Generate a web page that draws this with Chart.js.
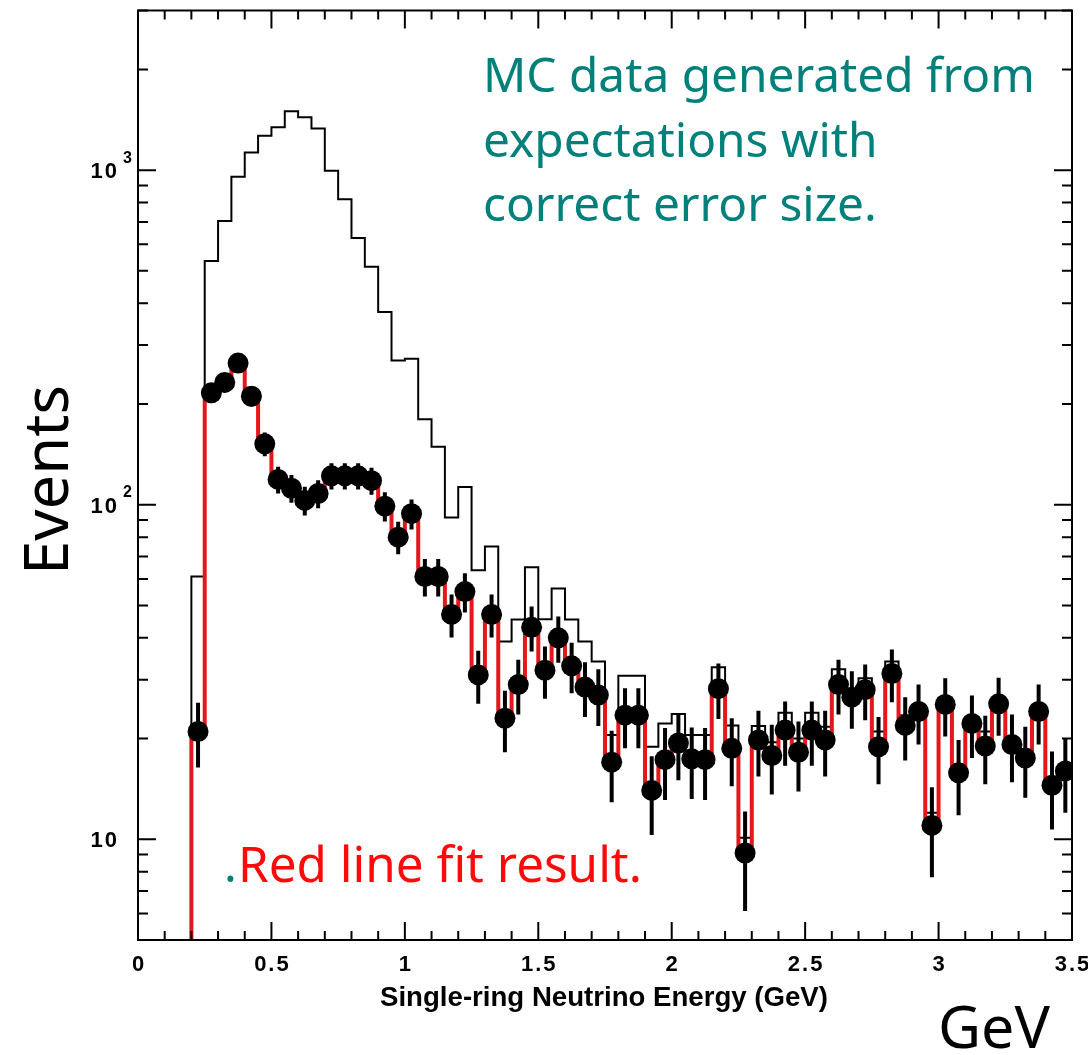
<!DOCTYPE html>
<html>
<head>
<meta charset="utf-8">
<script src="https://cdn.jsdelivr.net/npm/chart.js@4.4.1/dist/chart.umd.min.js"></script>
<style>
  html, body { margin: 0; padding: 0; background: #fff; }
  #wrap { width: 1088px; height: 1055px; position: relative; }
</style>
</head>
<body>
<div id="wrap"><canvas id="chart" width="1088" height="1055"></canvas></div>
<script>
// bin centres (GeV), 0.05 GeV wide bins from 0.2 to 3.5
const energy = [
  0.225, 0.275, 0.325, 0.375, 0.425, 0.475, 0.525, 0.575, 0.625, 0.675,
  0.725, 0.775, 0.825, 0.875, 0.925, 0.975, 1.025, 1.075, 1.125, 1.175,
  1.225, 1.275, 1.325, 1.375, 1.425, 1.475, 1.525, 1.575, 1.625, 1.675,
  1.725, 1.775, 1.825, 1.875, 1.925, 1.975, 2.025, 2.075, 2.125, 2.175,
  2.225, 2.275, 2.325, 2.375, 2.425, 2.475, 2.525, 2.575, 2.625, 2.675,
  2.725, 2.775, 2.825, 2.875, 2.925, 2.975, 3.025, 3.075, 3.125, 3.175,
  3.225, 3.275, 3.325, 3.375, 3.425, 3.475
];
const binWidth = 0.05;

// expectation histogram (black)
const mcEvents = [
  61, 535, 705, 955, 1129, 1266, 1343, 1500, 1439, 1331,
  995, 818, 627, 514, 377, 270, 273, 180, 149, 91.6,
  113, 63.7, 75, 39, 45.4, 65, 45.5, 56.2, 45.4, 39,
  34, 20.5, 30.8, 30.8, 18.9, 22.2, 23.7, 20.5, 20.5, 32.7,
  21.9, 10.1, 21.8, 19.5, 23.9, 20, 23.9, 21.7, 32.2, 27,
  30.3, 21, 34, 23.5, 25, 12, 26.5, 16, 22, 21,
  25, 19.5, 18, 24, 15, 16.5
];

// MC data points
const dataEvents = [
  21, 216, 232, 265, 211, 152, 119, 112, 103, 108,
  122, 122, 122, 118, 99, 80, 94, 61, 61, 47,
  55, 31, 47, 23, 29, 43, 32, 40, 33, 28.5,
  27, 17, 23.5, 23.5, 14, 17.3, 19.4, 17.4, 17.3, 28.2,
  18.7, 9.1, 19.8, 17.8, 21.2, 18.2, 21.2, 19.8, 29, 26.6,
  28, 18.9, 31.3, 21.9, 24.1, 11, 25.3, 15.8, 22.2, 19,
  25.4, 19.2, 17.5, 24.1, 14.5, 16
];
const dataErrors = [
  4.6, 14.7, 15.2, 16.3, 14.5, 12.3, 10.9, 10.6, 10.1, 10.4,
  11.0, 11.0, 11.0, 10.9, 9.9, 8.9, 9.7, 7.8, 7.8, 6.9,
  7.4, 5.6, 6.9, 4.8, 5.4, 6.6, 5.7, 6.3, 5.7, 5.3,
  5.2, 4.1, 4.8, 4.8, 3.7, 4.2, 4.4, 4.2, 4.2, 5.3,
  4.3, 3.0, 4.4, 4.2, 4.6, 4.3, 4.6, 4.4, 5.4, 5.2,
  5.3, 4.3, 5.6, 4.7, 4.9, 3.3, 5.0, 4.0, 4.7, 4.4,
  5.0, 4.4, 4.2, 4.9, 3.8, 4.0
];
// red fit steps run through the data points
const fitEvents = dataEvents;

const xTicks = [0, 0.5, 1, 1.5, 2, 2.5, 3, 3.5];
const xTickLabels = ['0', '0.5', '1', '1.5', '2', '2.5', '3', '3.5'];
const yDecades = [10, 100, 1000];
const yDecadeExp = ['', '2', '3'];

function histogramPoints(values) {
  // start below the axis so the first edge is drawn up from the bottom
  const pts = [{ x: energy[0] - binWidth / 2, y: 1 }];
  values.forEach((v, i) => pts.push({ x: energy[i] - binWidth / 2, y: v }));
  pts.push({ x: energy[energy.length - 1] + binWidth / 2, y: values[values.length - 1] });
  return pts;
}

function fitSize(ctx, text, weight, family, width) {
  ctx.font = `${weight} 100px ${family}`;
  return 100 * width / ctx.measureText(text).width;
}

const tickFont = '"Liberation Sans", Arial, sans-serif';

const frame = {
  id: 'frame',
  afterDatasetsDraw(chart) {
    const { ctx, chartArea, scales: { x, y } } = chart;
    ctx.save();
    ctx.beginPath();
    ctx.rect(chartArea.left, chartArea.top, chartArea.right - chartArea.left, chartArea.bottom - chartArea.top);
    ctx.clip();
    ctx.strokeStyle = '#000';
    ctx.lineWidth = 4;
    dataEvents.forEach((v, i) => {
      const px = x.getPixelForValue(energy[i]);
      ctx.beginPath();
      ctx.moveTo(px, y.getPixelForValue(Math.max(v - dataErrors[i], 1)));
      ctx.lineTo(px, y.getPixelForValue(v + dataErrors[i]));
      ctx.stroke();
    });
    ctx.restore();
  },
  afterDraw(chart) {
    const { ctx, chartArea: a, scales: { x, y } } = chart;
    ctx.save();
    ctx.strokeStyle = '#000';
    ctx.fillStyle = '#000';

    // frame
    ctx.lineWidth = 2;
    ctx.strokeRect(a.left, a.top, a.right - a.left, a.bottom - a.top);

    // x ticks, inward on bottom and top
    for (let k = 0; k <= 35; k++) {
      const px = x.getPixelForValue(k / 10);
      const len = k % 5 === 0 ? 18 : 9;
      ctx.beginPath();
      ctx.moveTo(px, a.bottom); ctx.lineTo(px, a.bottom - len);
      ctx.moveTo(px, a.top); ctx.lineTo(px, a.top + len);
      ctx.stroke();
    }
    // y ticks, inward on left and right
    [1, 10, 100, 1000].forEach(dec => {
      for (let m = 1; m <= 9; m++) {
        const v = m * dec;
        if (v < 5 || v > 3000) continue;
        const py = y.getPixelForValue(v);
        const len = m === 1 ? 18 : 10;
        ctx.beginPath();
        ctx.moveTo(a.left, py); ctx.lineTo(a.left + len, py);
        ctx.moveTo(a.right, py); ctx.lineTo(a.right - len, py);
        ctx.stroke();
      }
    });

    // tick labels
    ctx.letterSpacing = '2px';
    ctx.font = `bold 22px ${tickFont}`;
    ctx.textAlign = 'center';
    ctx.textBaseline = 'middle';
    xTicks.forEach((t, i) => ctx.fillText(xTickLabels[i], x.getPixelForValue(t) + 1, 965));
    yDecades.forEach((d, i) => {
      const py = y.getPixelForValue(d);
      ctx.font = `bold 22px ${tickFont}`;
      ctx.textAlign = 'right';
      ctx.fillText('10', 119, py + 2);
      if (yDecadeExp[i]) {
        ctx.font = `bold 16px ${tickFont}`;
        ctx.textAlign = 'left';
        ctx.fillText(yDecadeExp[i], 123, py - 12);
      }
    });
    ctx.letterSpacing = '0px';

    // axis title
    const tTitle = 'Single-ring Neutrino Energy (GeV)';
    ctx.textAlign = 'center';
    ctx.font = `bold ${fitSize(ctx, tTitle, 'bold', tickFont, 448)}px ${tickFont}`;
    ctx.fillText(tTitle, 604, 998);

    // annotations
    const fam = '"Noto Sans", sans-serif';
    ctx.textAlign = 'left';
    ctx.textBaseline = 'alphabetic';
    const s1 = fitSize(ctx, 'MC data generated from', 'normal', fam, 552);
    ctx.font = `normal ${s1}px ${fam}`;
    ctx.fillStyle = '#00807a';
    ctx.fillText('MC data generated from', 483, 92);
    ctx.fillText('expectations with', 483, 157);
    ctx.fillText('correct error size.', 483, 221);

    ctx.fillText('.', 224, 882);
    const sr = fitSize(ctx, 'Red line fit result.', 'normal', fam, 404);
    ctx.font = `normal ${sr}px ${fam}`;
    ctx.fillStyle = '#ff0a0a';
    ctx.fillText('Red line fit result.', 238, 882);

    ctx.fillStyle = '#000';
    const sg = fitSize(ctx, 'GeV', 'normal', fam, 112);
    ctx.font = `normal ${sg}px ${fam}`;
    ctx.fillText('GeV', 938, 1048);

    const se = fitSize(ctx, 'Events', 'normal', fam, 190);
    ctx.font = `normal ${se}px ${fam}`;
    ctx.translate(68, 480);
    ctx.rotate(-Math.PI / 2);
    ctx.textAlign = 'center';
    ctx.fillText('Events', 0, 0);
    ctx.restore();
  }
};

new Chart(document.getElementById('chart').getContext('2d'), {
  type: 'line',
  data: {
    datasets: [
      {
        label: 'MC data',
        data: energy.map((e, i) => ({ x: e, y: dataEvents[i] })),
        showLine: false,
        pointRadius: 10.5,
        pointBackgroundColor: '#000',
        pointBorderWidth: 0,
        order: 0
      },
      {
        label: 'Fit',
        data: histogramPoints(fitEvents),
        stepped: 'before',
        borderColor: '#e3171c',
        borderWidth: 4,
        pointRadius: 0,
        fill: false,
        order: 1
      },
      {
        label: 'Expectation',
        data: histogramPoints(mcEvents),
        stepped: 'before',
        borderColor: '#000',
        borderWidth: 2,
        pointRadius: 0,
        fill: false,
        order: 2
      }
    ]
  },
  options: {
    responsive: false,
    animation: false,
    layout: { padding: { left: 138, right: 16, top: 9, bottom: 115 } },
    plugins: { legend: { display: false }, tooltip: { enabled: false } },
    scales: {
      x: { type: 'linear', min: 0, max: 3.5, display: false },
      y: { type: 'logarithmic', min: 5, max: 3000, display: false }
    }
  },
  plugins: [frame]
});
</script>
</body>
</html>
